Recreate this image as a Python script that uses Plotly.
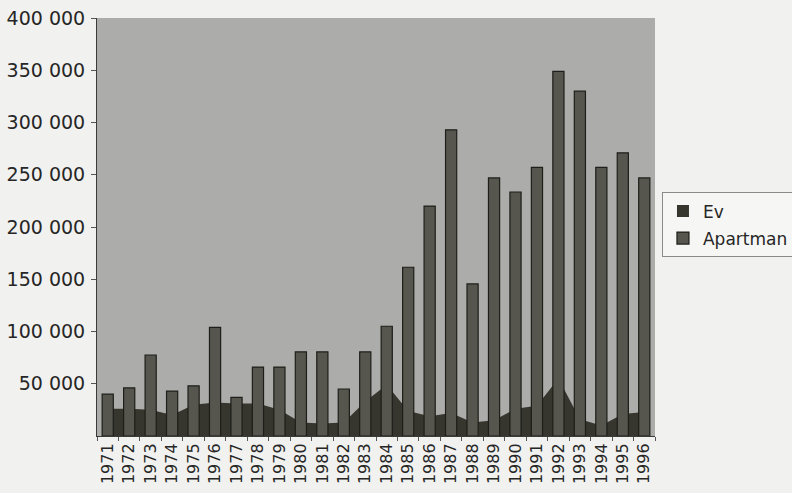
import plotly.graph_objects as go

years = [str(y) for y in range(1971, 1997)]
ev = [26000, 26000, 25000, 20000, 30000, 32000, 31000, 31000, 25000, 13000,
      12000, 13000, 33000, 49000, 24000, 19000, 22000, 13000, 15000, 26000,
      29000, 55000, 16000, 10000, 21000, 23000]
apartman = [40000, 46000, 77500, 43000, 48000, 104000, 37000, 66000, 66000, 80500,
            80500, 45000, 80500, 105000, 161500, 220000, 293000, 145500, 247000, 233500,
            257000, 349000, 330000, 257000, 271000, 247000]
ytick_vals = [50000, 100000, 150000, 200000, 250000, 300000, 350000, 400000]
ytick_text = ["50 000", "100 000", "150 000", "200 000", "250 000", "300 000", "350 000", "400 000"]

FONT = "DejaVu Sans"
TXT = "#262626"
EV_COLOR = "#36362e"

fig = go.Figure()
# Ev area (drawn behind the bars)
fig.add_trace(go.Scatter(
    x=years, y=ev, name="Ev", mode="none", fill="tozeroy",
    fillcolor=EV_COLOR, showlegend=False, legendgroup="ev",
    xaxis="x", yaxis="y"))
# legend square for Ev (zero-width bars of the same data)
fig.add_trace(go.Bar(
    x=years, y=ev, name="Ev", width=1e-6, legendgroup="ev",
    marker=dict(color=EV_COLOR, line=dict(width=0)),
    hoverinfo="skip", xaxis="x", yaxis="y"))
fig.add_trace(go.Bar(
    x=years, y=apartman, name="Apartman", width=0.52,
    marker=dict(color="#56564e", line=dict(color="#1e1e1a", width=1.2)),
    xaxis="x2", yaxis="y2"))

fig.update_layout(
    width=792, height=493,
    margin=dict(l=97, r=137, t=18, b=57, autoexpand=False),
    paper_bgcolor="#f1f1ef",
    plot_bgcolor="#acacaa",
    showlegend=True,
    barmode="overlay",
    legend=dict(x=1.0125, xanchor="left", y=0.505, yanchor="middle",
                bgcolor="#f6f6f4", bordercolor="#8a8a88", borderwidth=1,
                font=dict(family=FONT, size=17, color=TXT),
                tracegroupgap=2, itemwidth=30),
    xaxis=dict(type="category", range=[-0.5, 25.5], showgrid=False,
               showline=True, linecolor="#3a3a3a", linewidth=1,
               tickangle=-90, ticks="outside", ticklen=4, tickcolor="#555",
               tickson="boundaries",
               tickfont=dict(family=FONT, size=16, color=TXT)),
    yaxis=dict(range=[0, 400000], showgrid=False, zeroline=False,
               showline=True, linecolor="#3a3a3a", linewidth=1,
               tickvals=ytick_vals, ticktext=ytick_text,
               ticks="outside", ticklen=5, tickcolor="#555",
               ticklabelstandoff=2,
               tickfont=dict(family=FONT, size=19, color=TXT)),
    xaxis2=dict(type="category", range=[-0.5, 25.5], overlaying="x",
                visible=False, matches="x"),
    yaxis2=dict(range=[0, 400000], overlaying="y", visible=False),
)

fig.write_html("out.html", config={"displayModeBar": False},
               post_script="document.body.style.margin='0';")
